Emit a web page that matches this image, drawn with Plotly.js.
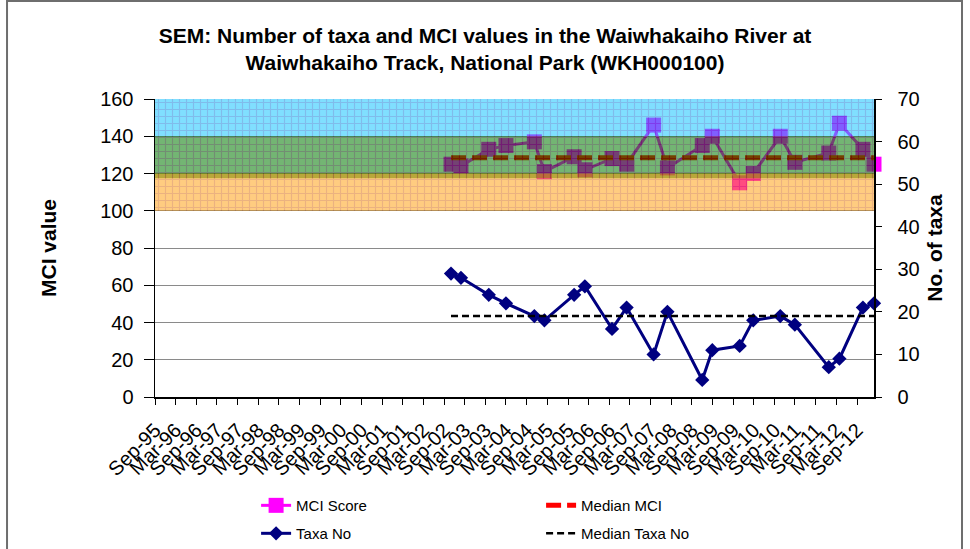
<!DOCTYPE html>
<html>
<head>
<meta charset="utf-8">
<script src="https://cdn.plot.ly/plotly-3.0.1.min.js"></script>
<style>html,body{margin:0;padding:0;background:#fff}#chart{width:970px;height:549px}</style>
</head>
<body>
<div id="chart"></div>
<script>
// ---- data ----
const sampleDates = [
  '2002-11-01','2003-01-28','2003-10-01','2004-03-01','2004-11-07','2005-02-04',
  '2005-10-25','2006-01-28','2006-09-25','2007-02-01','2007-09-28','2008-01-28',
  '2008-12-01','2009-02-28','2009-10-28','2010-02-25','2010-10-22','2011-02-28',
  '2011-12-25','2012-03-28','2012-10-22','2013-01-28'
];
const mciScore = [125, 124, 133, 135, 137, 121, 129, 122, 128, 125, 146, 123,
                  135, 140, 115, 120, 140, 126, 131, 147, 133, 125];
const taxaNo   = [29, 28, 24, 22, 19, 18, 24, 26, 16, 21, 10, 20,
                  4, 11, 12, 18, 19, 17, 7, 9, 21, 22];
const medianMCI = 128.5;
const medianTaxa = 19;
const bandLow  = [140, 117.5, 100];
const bandHigh = [160, 140, 120];
const axisStart = '1995-09-01';
const axisEnd = '2013-01-28';

const FONT = 'Liberation Sans, Arial, sans-serif';
const bandFill = ['rgb(0,190,255)', 'rgb(0,120,0)', 'rgb(255,153,0)'];
const bandLine = ['rgb(0,120,215)', 'rgb(0,50,0)', 'rgb(215,100,0)'];
const bandOpacity = [0.5, 0.55, 0.5];

const traces = [
  {
    name: 'MCI Score', x: sampleDates, y: mciScore, xaxis: 'x', yaxis: 'y',
    type: 'scatter', mode: 'lines+markers', cliponaxis: false, legend: 'legend',
    line: {color: '#ff00ff', width: 3},
    marker: {symbol: 'square', size: 15, color: '#ff00ff'}
  },
  {
    name: 'Median MCI', x: [sampleDates[0], sampleDates[sampleDates.length - 1]],
    y: [medianMCI, medianMCI], xaxis: 'x', yaxis: 'y',
    type: 'scatter', mode: 'lines', cliponaxis: false, legend: 'legend',
    line: {color: '#ff0000', width: 5, dash: '15px,6px'}
  },
  {
    name: 'Taxa No', x: sampleDates, y: taxaNo, xaxis: 'x', yaxis: 'y2',
    type: 'scatter', mode: 'lines+markers', cliponaxis: false, legend: 'legend2',
    line: {color: '#000080', width: 3},
    marker: {symbol: 'diamond', size: 11, color: '#000080'}
  },
  {
    name: 'Median Taxa No', x: [sampleDates[0], sampleDates[sampleDates.length - 1]],
    y: [medianTaxa, medianTaxa], xaxis: 'x', yaxis: 'y2',
    type: 'scatter', mode: 'lines', cliponaxis: false, legend: 'legend2',
    line: {color: '#000000', width: 2.5, dash: '7px,4px'}
  }
];

bandLow.forEach((lo, i) => {
  traces.push({
    type: 'bar', x: [0.5], y: [bandHigh[i] - lo], base: [lo], width: [1],
    xaxis: 'x3', yaxis: 'y3', showlegend: false, hoverinfo: 'skip',
    opacity: bandOpacity[i],
    marker: {
      color: bandFill[i], line: {width: 0},
      pattern: {shape: '+', fgcolor: bandLine[i], size: 7, solidity: 0.3, fillmode: 'overlay', fgopacity: 1}
    }
  });
});

const legendCommon = {
  orientation: 'h', xanchor: 'left', yanchor: 'middle',
  entrywidth: 240, entrywidthmode: 'pixels',
  font: {family: FONT, size: 15, color: '#000'},
  bgcolor: 'rgba(0,0,0,0)', borderwidth: 0
};

const layout = {
  width: 970, height: 549,
  margin: {l: 155, r: 96, t: 99, b: 152, pad: 0, autoexpand: false},
  paper_bgcolor: '#ffffff', plot_bgcolor: '#ffffff',
  font: {family: FONT, color: '#000'},
  barmode: 'overlay',
  title: {
    text: '<b>SEM: Number of taxa and MCI values in the Waiwhakaiho River at<br>Waiwhakaiho Track, National Park (WKH000100)</b>',
    font: {family: FONT, size: 21, color: '#000'},
    x: 0.5, xref: 'container', xanchor: 'center',
    y: 1 - 43 / 549, yref: 'container', yanchor: 'top'
  },
  xaxis: {
    type: 'date', range: [axisStart, axisEnd],
    tick0: '1995-09-01', dtick: 'M6', tickformat: '%b-%y', tickangle: -45,
    ticks: 'outside', ticklen: 6, tickcolor: '#000', tickwidth: 1,
    ticklabelstandoff: 6,
    showline: true, linecolor: '#000', linewidth: 1.5,
    showgrid: false, zeroline: false,
    tickfont: {family: FONT, size: 20, color: '#000'}
  },
  yaxis: {
    range: [0, 160], tick0: 0, dtick: 20,
    ticks: 'outside', ticklen: 10, tickcolor: '#000', tickwidth: 1,
    ticklabelstandoff: 6,
    showline: true, linecolor: '#000', linewidth: 1.5,
    showgrid: true, gridcolor: '#8a8a8a', gridwidth: 1, zeroline: false,
    tickfont: {family: FONT, size: 20, color: '#000'},
    title: {text: '<b>MCI value</b>', font: {family: FONT, size: 21, color: '#000'}, standoff: 38}
  },
  yaxis2: {
    range: [0, 70], tick0: 0, dtick: 10, overlaying: 'y', side: 'right',
    ticks: 'outside', ticklen: 6, tickcolor: '#000', tickwidth: 1,
    ticklabelstandoff: 12,
    showline: true, linecolor: '#000', linewidth: 1.5,
    showgrid: false, zeroline: false,
    tickfont: {family: FONT, size: 20, color: '#000'},
    title: {text: '<b>No. of taxa</b>', font: {family: FONT, size: 21, color: '#000'}, standoff: 8}
  },
  xaxis3: {overlaying: 'x', range: [0, 1], visible: false, fixedrange: true},
  yaxis3: {overlaying: 'y', range: [0, 160], visible: false, fixedrange: true},
  legend: Object.assign({}, legendCommon, {x: 0.1406, y: (397.3 - 506) / 298.3}),
  legend2: Object.assign({}, legendCommon, {x: 0.1406, y: (397.3 - 534) / 298.3}),
  shapes: [
    {type: 'rect', xref: 'paper', yref: 'paper', x0: -0.2058, x1: 1.1224, y0: -0.7, y1: 1.3287,
     line: {color: '#6e6e6e', width: 2}, fillcolor: 'rgba(0,0,0,0)', layer: 'below'}
  ],
  showlegend: true
};

Plotly.newPlot('chart', traces, layout, {displayModeBar: false, staticPlot: true});
</script>
</body>
</html>
